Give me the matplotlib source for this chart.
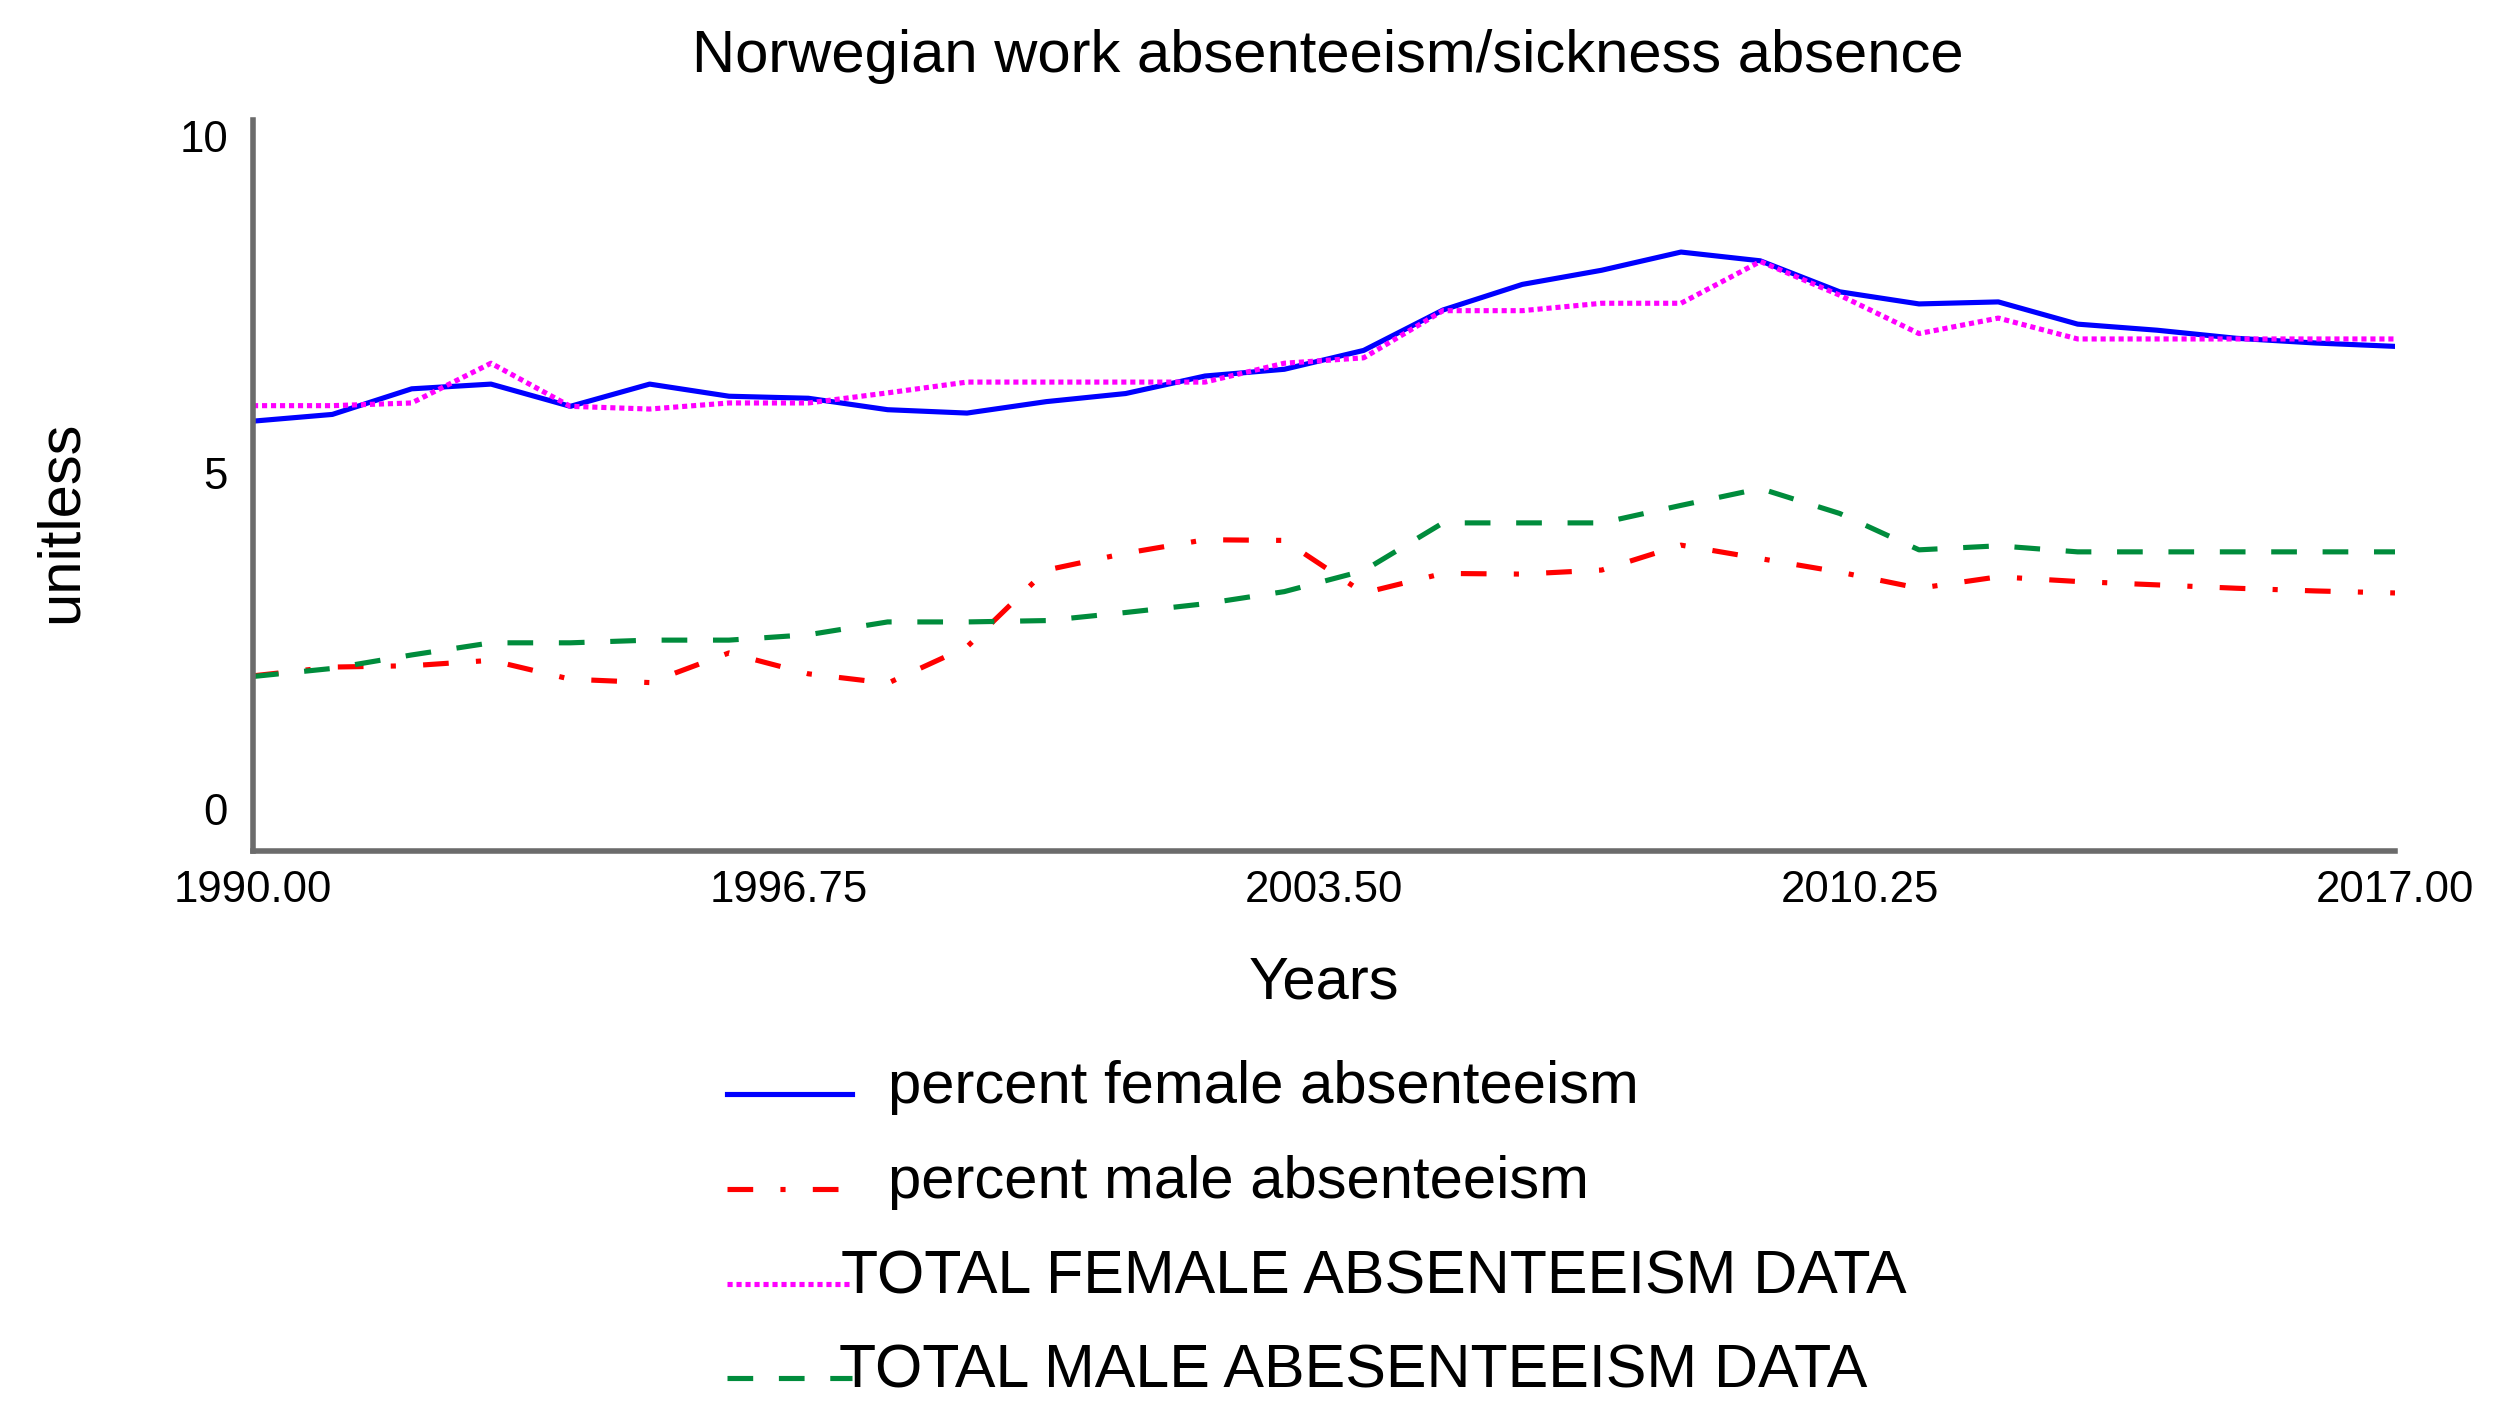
import matplotlib
matplotlib.use("Agg")
import matplotlib.pyplot as plt
from matplotlib.lines import Line2D

plt.rcParams['font.family'] = ['Liberation Sans', 'DejaVu Sans']

years = list(range(1990, 2018))

female_pct = [5.83, 5.93, 6.31, 6.38, 6.05, 6.38, 6.20, 6.17, 6.00, 5.95,
              6.12, 6.24, 6.50, 6.60, 6.88, 7.48, 7.86, 8.07, 8.34, 8.21,
              7.75, 7.57, 7.60, 7.27, 7.18, 7.06, 6.99, 6.94]
male_pct = [2.05, 2.18, 2.20, 2.28, 2.00, 1.95, 2.39, 2.08, 1.94, 2.48,
            3.62, 3.87, 4.07, 4.06, 3.28, 3.57, 3.56, 3.62, 3.99, 3.79,
            3.59, 3.35, 3.52, 3.45, 3.40, 3.35, 3.31, 3.28]
female_data = [6.06, 6.06, 6.10, 6.69, 6.05, 6.01, 6.10, 6.10, 6.25, 6.41,
               6.41, 6.41, 6.41, 6.69, 6.77, 7.47, 7.47, 7.58, 7.58, 8.20,
               7.70, 7.13, 7.36, 7.05, 7.05, 7.05, 7.05, 7.05]
male_data = [2.04, 2.16, 2.36, 2.54, 2.54, 2.58, 2.58, 2.66, 2.85, 2.85,
             2.87, 2.99, 3.12, 3.30, 3.61, 4.32, 4.32, 4.32, 4.58, 4.83,
             4.46, 3.92, 3.98, 3.89, 3.89, 3.89, 3.89, 3.89]

labels = ["percent female absenteeism", "percent male absenteeism",
          "TOTAL FEMALE ABSENTEEISM DATA", "TOTAL MALE ABESENTEEISM DATA"]
x_ticks = [1990.0, 1996.75, 2003.5, 2010.25, 2017.0]
y_ticks = [0, 5, 10]

W, H = 2506, 1426
fig = plt.figure(figsize=(W / 100, H / 100), dpi=100)
ax = fig.add_axes([253 / W, 1 - 851 / H, (2395 - 253) / W, (851 - 120) / H])

blue = '#0000ff'
red = '#ff0000'
mag = '#ff00ff'
green = '#008c3c'
lw = 3.7

ax.plot(years, female_pct, color=blue, lw=lw)
ax.plot(years, male_pct, color=red, lw=lw, dashes=(5, 5.3, 1, 5.3))
ax.plot(years, female_data, color=mag, lw=lw, dashes=(1, 0.75))
ax.plot(years, male_data, color=green, lw=lw, dashes=(5, 5))

ax.set_xlim(1990, 2017)
ax.set_ylim(-0.55, 10.3)
ax.set_xticks(x_ticks)
ax.set_xticklabels(["%.2f" % v for v in x_ticks])
ax.set_yticks(y_ticks)
ax.set_yticklabels([str(v) for v in y_ticks], va='center')
ax.tick_params(length=0, labelsize=31.5, pad=14)
ax.tick_params(axis='y', pad=18)
for t in ax.get_yticklabels():
    t.set_y(t.get_position()[1])

for s in ['top', 'right']:
    ax.spines[s].set_visible(False)
for s in ['left', 'bottom']:
    ax.spines[s].set_color('#6b6b6b')
    ax.spines[s].set_linewidth(4)

fig.text(1328 / W, 1 - 56 / H, "Norwegian work absenteeism/sickness absence",
         fontsize=43, ha='center', va='center')
fig.text(1324 / W, 1 - 983 / H, "Years", fontsize=43, ha='center', va='center')
fig.text(61 / W, 1 - 522 / H, "unitless", fontsize=43, ha='center', va='center',
         rotation=90)

# legend drawn by hand
handles = [
    dict(color=blue, dashes=None, ly=1094, ty=1103, tx=888, fs=43),
    dict(color=red, dashes=(5, 5.3, 1, 5.3), ly=1189, ty=1198, tx=888, fs=43),
    dict(color=mag, dashes=(1, 0.75), ly=1284, ty=1293, tx=841, fs=43.8),
    dict(color=green, dashes=(5, 5), ly=1378, ty=1387, tx=839, fs=43.8),
]
for h, lab in zip(handles, labels):
    ln = Line2D([727 / W, 852 / W], [1 - h['ly'] / H, 1 - h['ly'] / H],
                transform=fig.transFigure, color=h['color'], lw=lw)
    if h['dashes']:
        ln.set_dashes(h['dashes'])
    fig.add_artist(ln)
    fig.text(h['tx'] / W, 1 - h['ty'] / H, lab, fontsize=h['fs'], ha='left',
             va='baseline')

fig.savefig("out.png", dpi=100, facecolor='white')
